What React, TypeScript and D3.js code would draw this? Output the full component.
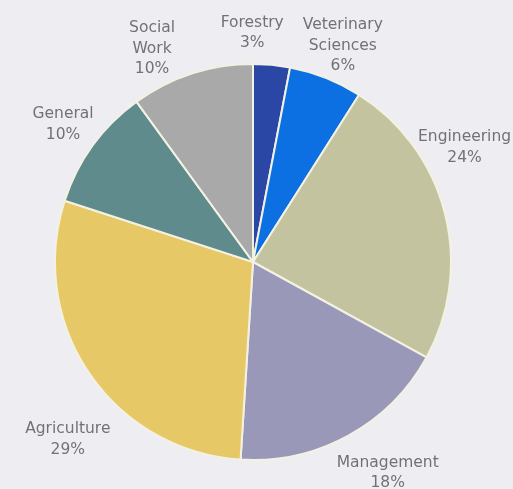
import React from "react";
import * as d3 from "d3";

const categories = ["Forestry", "Veterinary Sciences", "Engineering", "Management", "Agriculture", "General", "Social Work"];
const values = [3, 6, 24, 18, 29, 10, 10];
const labelLines = [["Forestry"], ["Veterinary", "Sciences"], ["Engineering"], ["Management"], ["Agriculture"], ["General"], ["Social", "Work"]];
const colors = ["#2b46a6", "#0d6fe2", "#c3c49f", "#9a98b9", "#e7c866", "#5f8b8c", "#a9a9aa"];

// layout nudges for label placement (px)
const labelNudge: Record<string, [number, number]> = {
  "Forestry": [-23, 5],
  "Veterinary Sciences": [3, 2],
  "Engineering": [-17, -57],
  "Management": [21, 3],
  "Agriculture": [10, 44],
  "General": [1, 0],
  "Social Work": [-28, 10],
};

const W = 513, H = 489;
const cx = 253, cy = 262, R = 198, LR = 236, LH = 20.5;

export default function App() {
  React.useEffect(() => {
    document.body.style.margin = "0";
    document.body.style.background = "#eeeef2";
  }, []);
  const data = categories.map((c, i) => ({ name: c, value: values[i], lines: labelLines[i], color: colors[i] }));
  const pie = d3.pie<any>().sort(null).value((d: any) => d.value).startAngle(0).endAngle(2 * Math.PI);
  const arcs = pie(data);
  const arc = d3.arc<any>().innerRadius(0).outerRadius(R);
  return (
    <svg width={W} height={H} style={{ display: "block", background: "#eeeef2" }}>
      <defs>
        <filter id="soft" x="-5%" y="-5%" width="110%" height="110%">
          <feGaussianBlur stdDeviation="0.5" />
        </filter>
      </defs>
      <g transform={`translate(${cx},${cy})`} filter="url(#soft)">
        {arcs.map((a, i) => (
          <path key={i} d={arc(a) || ""} fill={a.data.color} stroke="#f3f1e2" strokeWidth={2} strokeLinejoin="round" />
        ))}
      </g>
      <g fontFamily="DejaVu Sans, Verdana, sans-serif" fontSize={15.5} fill="#727276" textAnchor="middle" filter="url(#soft)">
        {arcs.map((a, i) => {
          const mid = (a.startAngle + a.endAngle) / 2;
          const [nx, ny] = labelNudge[a.data.name] || [0, 0];
          const x = cx + LR * Math.sin(mid) + nx;
          const y = cy - LR * Math.cos(mid) + ny;
          const lines = [...a.data.lines, `${a.data.value}%`];
          const top = y - ((lines.length - 1) * LH) / 2;
          return (
            <text key={i} x={x} y={top} dominantBaseline="central">
              {lines.map((l: string, j: number) => (
                <tspan key={j} x={x} y={top + j * LH} dominantBaseline="central">{l}</tspan>
              ))}
            </text>
          );
        })}
      </g>
    </svg>
  );
}
